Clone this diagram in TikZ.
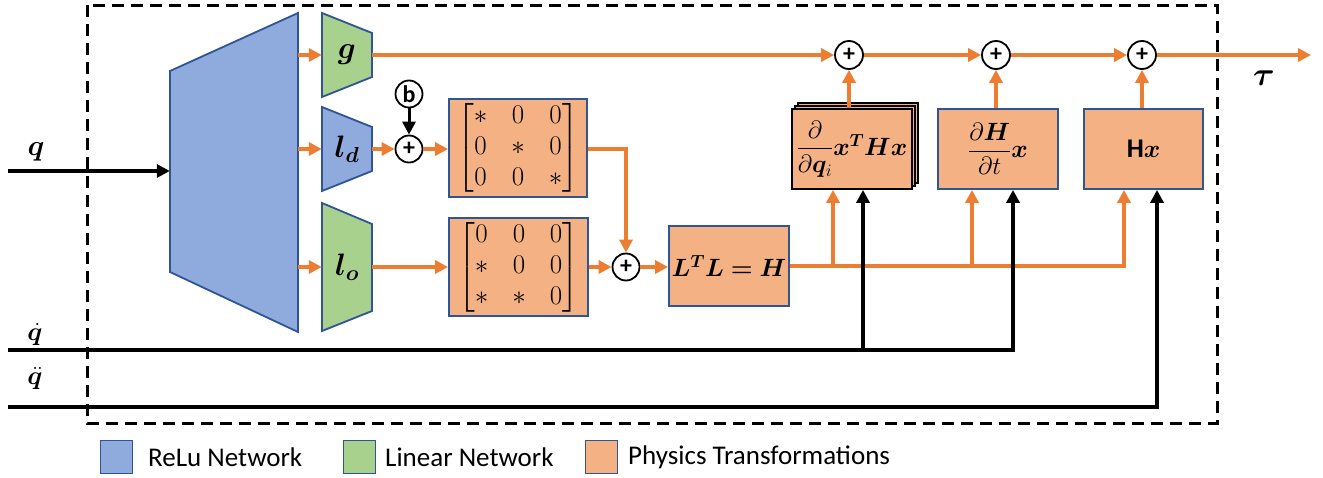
\RequirePackage{fix-cm}
\documentclass[tikz,border=0pt]{standalone}
\usepackage{amsmath}
\usepackage{bm}
\usepackage{fontspec}
\newfontfamily\carlito{Carlito}
\usetikzlibrary{arrows.meta}
\definecolor{reluC}{HTML}{8FAADC}
\definecolor{linC}{HTML}{A9D18E}
\definecolor{physC}{HTML}{F4B183}
\definecolor{edgeC}{HTML}{2F5597}
\definecolor{orC}{HTML}{ED7D31}
\begin{document}
\begin{tikzpicture}[x=1pt,y=-1pt,
  oarr/.style={draw=orC, line width=3.5pt, -{Triangle[length=13pt,width=13pt]}},
  karr/.style={draw=black, line width=4pt, -{Triangle[length=13pt,width=13pt]}},
  trap/.style={draw=edgeC, line width=1.8pt, line join=miter},
  tnode/.style={inner sep=0pt, font=\fontsize{31}{34}\selectfont},
  physbox/.style={draw=edgeC, fill=physC, line width=1.8pt, inner sep=0pt, font=\fontsize{25}{29}\selectfont},
  sumc/.style={circle, draw=black, fill=white, line width=1.8pt, minimum size=27pt, inner sep=0pt, font=\carlito\bfseries\fontsize{24}{24}\selectfont},
  lbl/.style={inner sep=0pt, font=\fontsize{29}{32}\selectfont},
  lbls/.style={inner sep=0pt, anchor=south, font=\fontsize{26}{30}\selectfont},
  legsq/.style={draw=edgeC, line width=1.8pt, minimum width=32pt, minimum height=33pt, inner sep=0pt},
  legtxt/.style={inner sep=0pt, anchor=west, font=\carlito\fontsize{27}{30}\selectfont},
  mat/.style={font=\fontsize{27}{31}\selectfont}
]
\useasboundingbox (0,0) rectangle (1323,477);
% dashed frame
\draw[dashed, dash pattern=on 12pt off 7pt, line width=3pt] (87,5) rectangle (1217,423);

% trapezoids
\draw[trap, fill=reluC] (170,71) -- (298,13) -- (298,332) -- (170,272) -- cycle;
\draw[trap, fill=linC] (322,13) -- (372,33) -- (372,77) -- (322,97) -- cycle;
\draw[trap, fill=reluC] (322,107) -- (372,127) -- (372,171) -- (322,191) -- cycle;
\draw[trap, fill=linC] (322,203) -- (372,224) -- (372,311) -- (322,331) -- cycle;
\node[tnode, minimum width=128pt, minimum height=319pt] (relu) at (234,172.5) {};
\node[tnode, minimum width=50pt, minimum height=84pt] (g) at (347,55) {$\bm{g}$};
\node[tnode, minimum width=50pt, minimum height=84pt] (ld) at (347,149) {$\bm{l_d}$};
\node[tnode, minimum width=50pt, minimum height=128pt] (lo) at (347,267) {$\bm{l_o}$};

% sums
\node[sumc] (b) at (409,94) {b};
\node[sumc] (pd) at (409,149) {+};
\node[sumc] (ps) at (626,267) {+};
\node[sumc, minimum size=28pt] (p1) at (849,55) {+};
\node[sumc, minimum size=28pt] (p2) at (996,55) {+};
\node[sumc, minimum size=28pt] (p3) at (1142,55) {+};

% physics boxes
\node[physbox, mat, minimum width=138pt, minimum height=98pt] (M1) at (518,148)
  {\setlength\arraycolsep{12pt}$\begin{bmatrix} * & 0 & 0\\ 0 & * & 0\\ 0 & 0 & *\end{bmatrix}$};
\node[physbox, mat, minimum width=139pt, minimum height=98pt] (M2) at (518.5,267)
  {\setlength\arraycolsep{12pt}$\begin{bmatrix} 0 & 0 & 0\\ * & 0 & 0\\ * & * & 0\end{bmatrix}$};
\node[physbox, minimum width=120pt, minimum height=80pt] (H) at (729,266) {$\bm{L^T L = H}$};
\draw[fill=physC, line width=1.8pt] (798,103) rectangle (918,183);
\draw[fill=physC, line width=1.8pt] (795,106) rectangle (915,186);
\node[physbox, draw=black, minimum width=120pt, minimum height=80pt] (stack) at (852,149)
  {$\dfrac{\partial}{\partial \bm{q}_i}\bm{x^T H x}$};
\node[physbox, minimum width=120pt, minimum height=80pt] (dH) at (998,149)
  {$\dfrac{\partial \bm{H}}{\partial t}\bm{x}$};
\node[physbox, minimum width=119pt, minimum height=80pt] (Hx) at (1143.5,149)
  {{\carlito\bfseries\fontsize{27}{29}\selectfont H}$\bm{x}$};

% orange connectors
\draw[oarr] (relu.east |- g) -- (g.west);
\draw[oarr] (relu.east |- ld) -- (ld.west);
\draw[oarr] (relu.east |- lo) -- (lo.west);
\draw[oarr] (ld.east) -- (pd.west);
\draw[oarr] (pd.east) -- (M1.west |- pd);
\draw[oarr] (lo.east) -- (M2.west |- lo);
\draw[oarr] (M1.east |- pd) -| (ps.north);
\draw[oarr] (M2.east |- ps) -- (ps.west);
\draw[oarr] (ps.east) -- (H.west |- ps);
\draw[oarr] (H.east) -| ([xshift=-19.5pt]Hx.south);
\draw[oarr] ([xshift=-19pt]stack.south |- H.east) -- ([xshift=-19pt]stack.south);
\draw[oarr] ([xshift=-26pt]dH.south |- H.east) -- ([xshift=-26pt]dH.south);
\draw[oarr] (g.east) -- (p1.west);
\draw[oarr] (p1.east) -- (p2.west);
\draw[oarr] (p2.east) -- (p3.west);
\draw[oarr] (p1.south |- stack.north) -- (p1.south);
\draw[oarr] (p2.south |- dH.north) -- (p2.south);
\draw[oarr] (p3.south |- Hx.north) -- (p3.south);
\coordinate (out) at (1311,55);
\draw[oarr] (p3.east) -- (out);
\draw[karr, line width=3pt] (b.south) -- (pd.north);

% inputs
\coordinate (q0) at (8,171);
\coordinate (qd0) at (8,350);
\coordinate (qdd0) at (8,407);
\draw[karr] (q0) -- (relu.west |- q0);
\draw[karr] (qd0) -| ([xshift=15pt]dH.south);
\draw[karr] ([xshift=11pt]stack.south |- qd0) -- ([xshift=11pt]stack.south);
\draw[karr] (qdd0) -| ([xshift=13.5pt]Hx.south);

% labels
\node[lbl, anchor=south] (ql) at (36,161) {$\bm{q}$};
\node[lbls] (qdl) at (35,346) {$\bm{\dot q}$};
\node[lbls] (qddl) at (35,390) {$\bm{\ddot q}$};
\node[lbl, font=\fontsize{33}{36}\selectfont] (tau) at (1264,78) {$\bm{\tau}$};

% legend
\node[legsq, fill=reluC] (l1) at (116.5,457) {};
\node[legtxt] (t1) at (148,457) {ReLu Network};
\node[legsq, fill=linC] (l2) at (359.5,457) {};
\node[legtxt] (t2) at (385,457) {Linear Network};
\node[legsq, fill=physC] (l3) at (601.5,457) {};
\node[legtxt] (t3) at (628,457) {Physics Transformations};
\end{tikzpicture}
\end{document}
